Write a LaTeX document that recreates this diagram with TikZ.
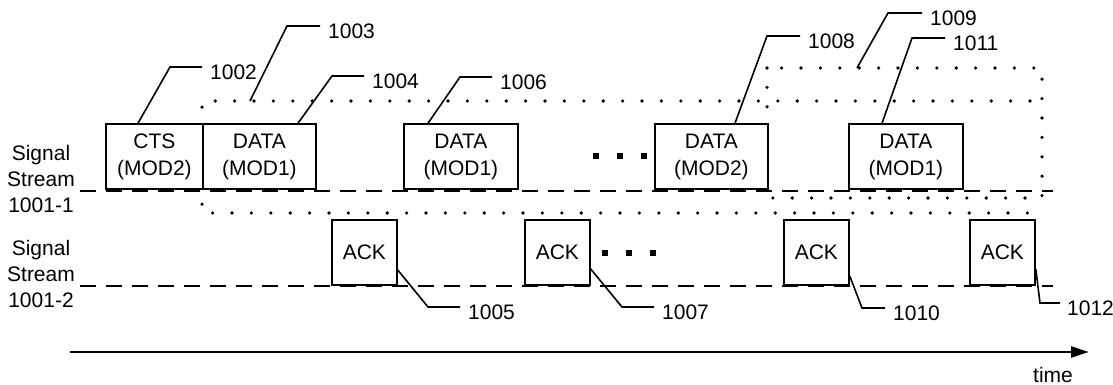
\documentclass[tikz,border=0pt]{standalone}
\usepackage{fontspec}
\setmainfont{Liberation Sans}
\usetikzlibrary{arrows.meta}
\begin{document}
\begin{tikzpicture}[x=1pt,y=-1pt,
  pkt/.style={draw, fill=white, line width=1.8pt, anchor=south west, align=center,
    inner sep=0pt, minimum height=65pt, font=\fontsize{21}{27}\selectfont},
  streamtxt/.style={align=center, inner sep=0pt, font=\fontsize{21}{26}\selectfont},
  refnum/.style={anchor=west, inner sep=0pt, font=\fontsize{21}{25}\selectfont},
  leader/.style={line width=1.6pt},
  streamline/.style={line width=2.4pt, dash pattern=on 16pt off 10pt},
  region/.style={line width=3.6pt, line cap=round, dash pattern=on 0pt off 19.4pt},
  gapdot/.style={fill, inner sep=0pt, minimum size=6pt},
  timeaxis/.style={line width=2.5pt, -{Triangle[length=18pt,width=11pt]}}
]
\useasboundingbox (0,0) rectangle (1113,385);

% dotted regions
\draw[region] (1030,101) -- (202,101) -- (202,213) -- (1037,213);
\draw[region] (767,68) rectangle (1042,198);

% stream base lines
\coordinate (s1a) at (80,191);
\coordinate (s1b) at (1053,191);
\coordinate (s2a) at (80,286);
\coordinate (s2b) at (1053,286);
\draw[streamline] (s1a) -- (s1b);
\draw[streamline] (s2a) -- (s2b);

% stream labels
\node[streamtxt] (lab1) at (41,178.5) {Signal\\Stream\\1001-1};
\node[streamtxt] (lab2) at (41,274) {Signal\\Stream\\1001-2};

% frames on stream 1
\node[pkt, minimum width=97pt]  (cts) at (105,190) {CTS\\(MOD2)};
\node[pkt, minimum width=113pt] (d1)  at (202,190) {DATA\\(MOD1)};
\node[pkt, minimum width=114pt] (d2)  at (403,190) {DATA\\(MOD1)};
\node[pkt, minimum width=113pt] (d3)  at (654,190) {DATA\\(MOD2)};
\node[pkt, minimum width=114pt] (d4)  at (848,190) {DATA\\(MOD1)};

% frames on stream 2
\node[pkt, minimum width=65pt] (a1) at (331,286) {ACK};
\node[pkt, minimum width=65pt] (a2) at (524,286) {ACK};
\node[pkt, minimum width=65pt] (a3) at (783,286) {ACK};
\node[pkt, minimum width=65pt] (a4) at (969,286) {ACK};

% ellipses
\node[gapdot] (e11) at (596,156) {};
\node[gapdot] (e12) at (620,156) {};
\node[gapdot] (e13) at (644,156) {};
\node[gapdot] (e21) at (605,253) {};
\node[gapdot] (e22) at (629,253) {};
\node[gapdot] (e23) at (653,253) {};

% reference numerals
\node[refnum] (n1002) at (210,72) {1002};
\node[refnum] (n1003) at (328,31) {1003};
\node[refnum] (n1004) at (372,81) {1004};
\node[refnum] (n1006) at (500,82) {1006};
\node[refnum] (n1008) at (808,41) {1008};
\node[refnum] (n1009) at (930,18) {1009};
\node[refnum] (n1011) at (953,43) {1011};
\node[refnum] (n1005) at (468,312) {1005};
\node[refnum] (n1007) at (662,312) {1007};
\node[refnum] (n1010) at (893,313) {1010};
\node[refnum] (n1012) at (1067,308) {1012};

\coordinate (r1003) at (250,101);
\coordinate (r1009) at (857,68);

% leader lines
\draw[leader] ([xshift=33pt]cts.north west) -- (170,67) -- ([xshift=-8pt,yshift=5pt]n1002.west);
\draw[leader] (r1003) -- (287,26) -- ([xshift=-8pt,yshift=5pt]n1003.west);
\draw[leader] ([xshift=96pt]d1.north west) -- (332,76) -- ([xshift=-8pt,yshift=5pt]n1004.west);
\draw[leader] ([xshift=25pt]d2.north west) -- (460,77) -- ([xshift=-8pt,yshift=5pt]n1006.west);
\draw[leader] ([xshift=81pt]d3.north west) -- (767,36) -- ([xshift=-8pt,yshift=5pt]n1008.west);
\draw[leader] (r1009) -- (888,13) -- ([xshift=-8pt,yshift=5pt]n1009.west);
\draw[leader] ([xshift=34pt]d4.north west) -- (912,38) -- ([xshift=-8pt,yshift=5pt]n1011.west);
\draw[leader] ([yshift=-17.5pt]a1.east) -- (428,307) -- ([xshift=-8pt,yshift=5pt]n1005.west);
\draw[leader] ([yshift=-16.5pt]a2.east) -- (622,307) -- ([xshift=-8pt,yshift=5pt]n1007.west);
\draw[leader] ([yshift=-23.5pt]a3.east) -- (862,308) -- ([xshift=-8pt,yshift=5pt]n1010.west);
\draw[leader] ([yshift=-16.5pt]a4.east) -- (1040,303) -- ([xshift=-7pt,yshift=5pt]n1012.west);

% time axis
\coordinate (t0) at (70,352);
\coordinate (t1) at (1089,352);
\draw[timeaxis] (t0) -- (t1);
\node[streamtxt] (tl) at (1053,375) {time};
\end{tikzpicture}
\end{document}
